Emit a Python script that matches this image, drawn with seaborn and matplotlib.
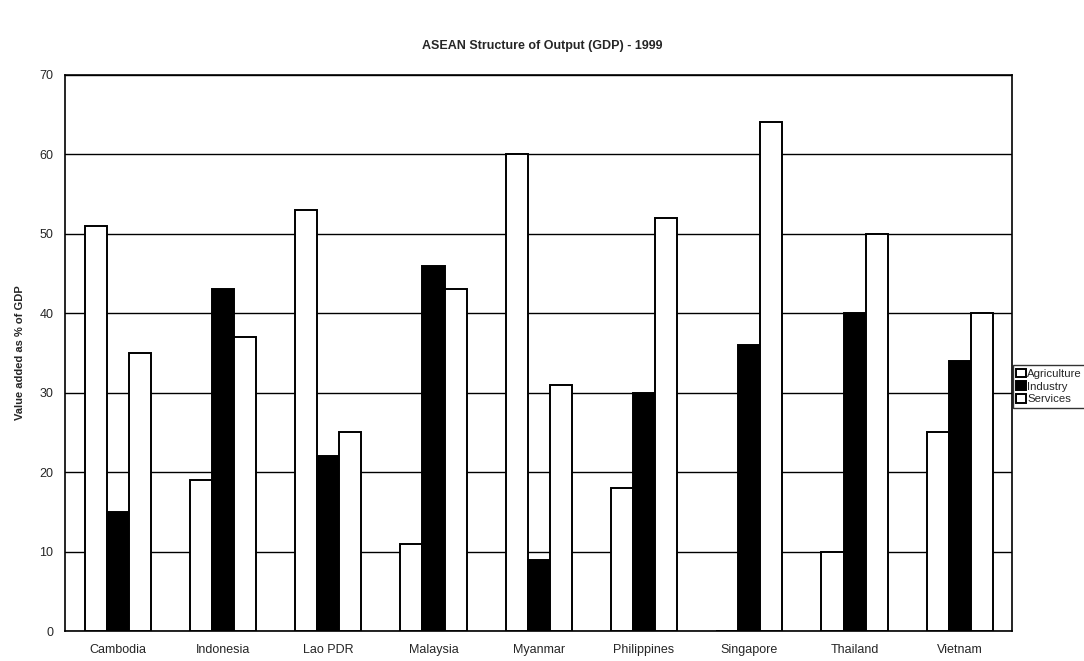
import numpy as np
import pandas as pd
import matplotlib
matplotlib.use("Agg")
import matplotlib.pyplot as plt
import seaborn as sns

# Values (value added as % of GDP, 1999)
countries = ["Cambodia", "Indonesia", "Lao PDR", "Malaysia", "Myanmar",
             "Philippines", "Singapore", "Thailand", "Vietnam"]
agriculture = [51, 19, 53, 11, 60, 18, 0, 10, 25]
industry = [15, 43, 22, 46, 9, 30, 36, 40, 34]
services = [35, 37, 25, 43, 31, 52, 64, 50, 40]
sectors = ["Agriculture", "Industry", "Services"]
y_ticks = [0, 10, 20, 30, 40, 50, 60, 70]


def main():
    df = pd.DataFrame({
        "country": countries * 3,
        "sector": [s for s in sectors for _ in countries],
        "value": agriculture + industry + services,
    })

    sns.set_style("white")
    plt.rcParams['font.family'] = ['Liberation Sans', 'DejaVu Sans']

    fig = plt.figure(figsize=(10.84, 6.61), dpi=100)
    ax = fig.add_axes([0.060, 0.045, 0.874, 0.842])

    palette = {"Agriculture": "white", "Industry": "black", "Services": "white"}
    sns.barplot(data=df, x="country", y="value", hue="sector", order=countries,
                hue_order=sectors, palette=palette, width=0.63, ax=ax,
                edgecolor="black", linewidth=1.4, saturation=1, errorbar=None,
                zorder=3)

    ax.set_ylim(0, 70)
    ax.set_xlim(-0.5, len(countries) - 0.5)
    ax.set_yticks(y_ticks)
    ax.set_yticklabels([str(t) for t in y_ticks], fontsize=9)
    ax.yaxis.grid(True, color="black", linewidth=1.0)
    ax.set_axisbelow(True)

    # x ticks sit between the groups, labels at group centres
    ax.set_xticks(np.arange(len(countries)))
    ax.set_xticklabels(countries, fontsize=9)
    ax.set_xticks(np.arange(len(countries) + 1) - 0.5, minor=True)
    ax.tick_params(axis="x", which="major", length=0, pad=9)
    ax.tick_params(axis="x", which="minor", length=4, width=1, direction="out")
    ax.tick_params(axis="y", length=5, width=1, direction="inout", pad=6)

    for s in ax.spines.values():
        s.set_visible(True)
        s.set_color("black")
        s.set_linewidth(1.2)

    ax.set_xlabel("")
    ax.set_ylabel("Value added as % of GDP", fontsize=8, fontweight="bold",
                  labelpad=10)
    fig.suptitle("ASEAN Structure of Output (GDP) - 1999", fontsize=9,
                 fontweight="bold", y=0.94)

    leg = ax.legend(loc="center left", bbox_to_anchor=(1.0, 0.44),
                    frameon=True, fontsize=8.2, handlelength=0.8,
                    handleheight=0.8, handletextpad=0.15, labelspacing=0.2,
                    borderpad=0.3, borderaxespad=0.05, fancybox=False)
    leg.get_frame().set_edgecolor("black")
    leg.get_frame().set_linewidth(1.0)

    fig.savefig("out.png", dpi=100)
    plt.close(fig)


if __name__ == "__main__":
    main()
